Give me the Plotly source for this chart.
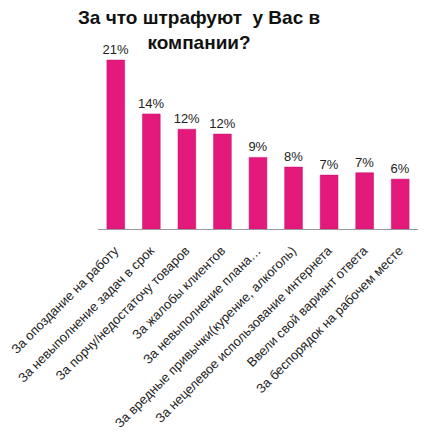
import plotly.graph_objects as go

# Survey answers and shares (percent)
categories = [
    "За опоздание на работу",
    "За невыполнение задач в срок",
    "За порчу/недостаточу товаров",
    "За жалобы клиентов",
    "За невыполнение плана…",
    "За вредные привычки(курение, алкоголь)",
    "За нецелевое использование интернета",
    "Ввели свой вариант ответа",
    "За беспорядок на рабочем месте",
]
shares = [21.0, 14.3, 12.4, 11.8, 8.9, 7.7, 6.7, 7.0, 6.2]

fig = go.Figure()
fig.add_trace(go.Bar(
    x=categories,
    y=shares,
    marker=dict(color="#E3197C", line=dict(color="#C8106A", width=0.5)),
    texttemplate="%{y:.0f}%",
    textposition="outside",
    constraintext="none",
    textfont=dict(family="Liberation Sans, Arial", size=13, color="#222222"),
    cliponaxis=False,
))

# page body adds an 8px margin, so the figure is 16px smaller than the window
fig.update_layout(
    width=410,
    height=430,
    margin=dict(l=90, r=0, t=44, b=209),
    paper_bgcolor="white",
    plot_bgcolor="white",
    showlegend=False,
    bargap=0.5,
    title=dict(
        text="За что штрафуют  у Вас в<br>компании?",
        x=0.466,
        xanchor="center",
        y=0.962,
        yanchor="middle",
        automargin=False,
        font=dict(family="Liberation Sans, Arial", size=19, color="#111111", weight="bold"),
    ),
    xaxis=dict(
        tickangle=-45,
        tickfont=dict(family="Liberation Sans, Arial", size=13, color="#222222"),
        ticklabelstandoff=8,
        ticklabelshift=-1,
        showline=True,
        linecolor="#999999",
        linewidth=1,
        showgrid=False,
        ticks="",
        automargin=False,
    ),
    yaxis=dict(
        range=[0, 22],
        visible=False,
        showgrid=False,
        zeroline=False,
        automargin=False,
    ),
)

fig.write_html("out.html")
